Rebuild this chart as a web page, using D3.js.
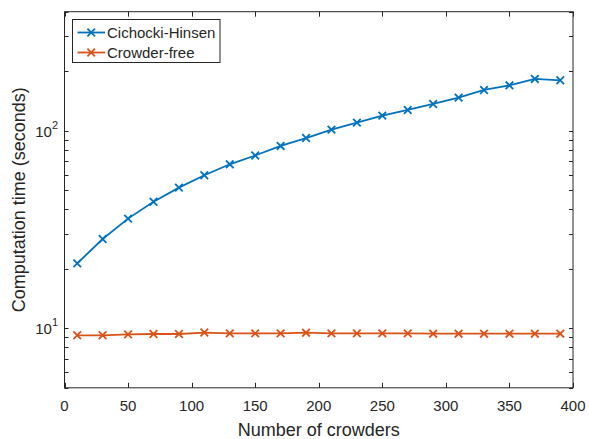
<!DOCTYPE html>
<html>
<head>
<meta charset="utf-8">
<script src="https://cdn.jsdelivr.net/npm/d3@7"></script>
<style>
  html, body { margin: 0; padding: 0; background: #fff; }
  svg { display: block; }
  text { font-family: "Liberation Sans", Arial, Helvetica, sans-serif; fill: #262626; }
</style>
</head>
<body>
<svg id="chart" width="589" height="439"></svg>
<script>
// ---- data ----
const crowders = [10, 30, 50, 70, 90, 110, 130, 150, 170, 190, 210, 230, 250, 270, 290, 310, 330, 350, 370, 390];
const cichockiHinsen = [21.3, 28.3, 35.9, 43.7, 51.5, 59.5, 67.6, 74.9, 83.7, 91.8, 101.2, 109.8, 119.1, 127.3, 136.5, 146.9, 160.7, 169.7, 182.7, 179.9];
const crowderFree = [9.22, 9.22, 9.32, 9.36, 9.36, 9.52, 9.43, 9.43, 9.43, 9.50, 9.43, 9.43, 9.43, 9.43, 9.39, 9.39, 9.39, 9.39, 9.39, 9.39];
const seriesNames = ["Cichocki-Hinsen", "Crowder-free"];
const seriesColors = ["#0072BD", "#D95319"];
const xTicks = [0, 50, 100, 150, 200, 250, 300, 350, 400];
const yMajorTicks = [10, 100];
const yMinorTicks = [5, 6, 7, 8, 9, 20, 30, 40, 50, 60, 70, 80, 90, 200, 300, 400];
const xDomain = [0, 400];
const yDomain = [5, 400];

const svg = d3.select("#chart");
const L = 64.5, R = 573, T = 11.7, B = 387.8;
const x = d3.scaleLinear().domain(xDomain).range([L, R]);
const y = d3.scaleLog().domain(yDomain).range([B, T]);
const axisColor = "#262626";

// axes box
svg.append("rect").attr("x", L).attr("y", T).attr("width", R - L).attr("height", B - T)
  .attr("fill", "#fff").attr("stroke", axisColor).attr("stroke-width", 1);

// x ticks (bottom and top, inward)
const tx = 5;
xTicks.forEach(v => {
  const px = Math.round(x(v)) + 0.5;
  svg.append("line").attr("x1", px).attr("x2", px).attr("y1", B).attr("y2", B - tx).attr("stroke", axisColor);
  svg.append("line").attr("x1", px).attr("x2", px).attr("y1", T).attr("y2", T + tx).attr("stroke", axisColor);
  svg.append("text").attr("x", x(v)).attr("y", 411).attr("text-anchor", "middle")
    .attr("font-size", 15).text(v);
});

// y ticks
const ty = 4;
yMajorTicks.concat(yMinorTicks).forEach(v => {
  const py = Math.round(y(v)) + 0.5;
  svg.append("line").attr("x1", L).attr("x2", L + ty).attr("y1", py).attr("y2", py).attr("stroke", axisColor);
  svg.append("line").attr("x1", R).attr("x2", R - ty).attr("y1", py).attr("y2", py).attr("stroke", axisColor);
});
yMajorTicks.forEach(v => {
  const t = svg.append("text").attr("x", 58).attr("y", y(v) + 6).attr("text-anchor", "end")
    .attr("font-size", 15);
  t.append("tspan").text("10");
  t.append("tspan").attr("dy", -8).attr("font-size", 11).text(Math.round(Math.log10(v)));
});

// axis labels
svg.append("text").attr("x", (L + R) / 2).attr("y", 436).attr("text-anchor", "middle")
  .attr("font-size", 18).text("Number of crowders");
svg.append("text").attr("transform", `translate(25,${(T + B) / 2}) rotate(-90)`)
  .attr("text-anchor", "middle").attr("font-size", 18).text("Computation time (seconds)");

// series
const allSeries = [cichockiHinsen, crowderFree];
const line = d3.line().x((d, i) => x(crowders[i])).y(d => y(d));
const ms = 3.8;
allSeries.forEach((vals, k) => {
  const g = svg.append("g");
  g.append("path").datum(vals).attr("d", line).attr("fill", "none")
    .attr("stroke", seriesColors[k]).attr("stroke-width", 1.8);
  vals.forEach((v, i) => {
    const cx = x(crowders[i]), cy = y(v);
    g.append("path").attr("d", `M${cx - ms},${cy - ms}L${cx + ms},${cy + ms}M${cx - ms},${cy + ms}L${cx + ms},${cy - ms}`)
      .attr("stroke", seriesColors[k]).attr("stroke-width", 1.8).attr("fill", "none");
  });
});

// legend
const lg = svg.append("g");
lg.append("rect").attr("x", 72.5).attr("y", 19.5).attr("width", 147.5).attr("height", 43)
  .attr("fill", "#fff").attr("stroke", axisColor).attr("stroke-width", 1);
seriesNames.forEach((name, k) => {
  const ly = 32.5 + k * 20;
  lg.append("line").attr("x1", 77.5).attr("x2", 105).attr("y1", ly).attr("y2", ly)
    .attr("stroke", seriesColors[k]).attr("stroke-width", 1.8);
  const cx = 91.2;
  lg.append("path").attr("d", `M${cx - ms},${ly - ms}L${cx + ms},${ly + ms}M${cx - ms},${ly + ms}L${cx + ms},${ly - ms}`)
    .attr("stroke", seriesColors[k]).attr("stroke-width", 1.8);
  lg.append("text").attr("x", 107).attr("y", ly + 5.5).attr("font-size", 15).text(name);
});
</script>
</body>
</html>
